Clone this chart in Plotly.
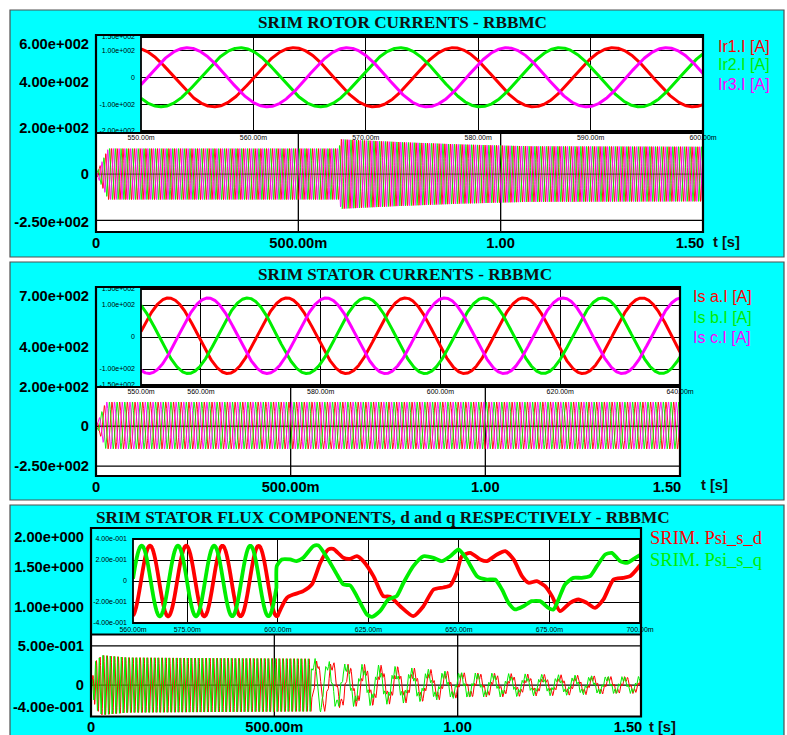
import numpy as np
import plotly.graph_objects as go

W, H = 787, 735

# ====================== DATA ======================
TIME_TICKS = [0.0, 0.5, 1.0, 1.5]
TIME_TICK_TEXT = ["0", "500.00m", "1.00", "1.50"]
TIME_GRID = [0.5, 1.0]

# ---- Panel 1 : rotor currents ----
ROTOR_TITLE = "SRIM ROTOR CURRENTS - RBBMC"
ROTOR_NAMES = ["Ir1.I [A]", "Ir2.I [A]", "Ir3.I [A]"]
ROTOR_FREQ_HZ = 70.4
ROTOR_CREST_MS = 563.6                 # crest of Ir1 read in the inset
ROTOR_LAG = [0.0, -1 / 3, 1 / 3]       # fraction of a period behind Ir1
ROTOR_ENV_T = [0.0, 0.03, 0.60, 0.605, 0.75, 0.90, 1.07, 1.50]
ROTOR_ENV_A = [0.0, 110, 110, 150, 138, 128, 120, 118]
ROTOR_Y_RANGE = [-250, 600]
ROTOR_Y_TICKS = [600, 400, 200, 0, -250]
ROTOR_Y_TEXT = ["6.00e+002", "4.00e+002", "2.00e+002", "0", "-2.50e+002"]
ROTOR_Y_GRID = [-200, 0, 200, 400]
ROTOR_INSET_X_RANGE = [550, 600]
ROTOR_INSET_X_TICKS = [550, 560, 570, 580, 590, 600]
ROTOR_INSET_X_TEXT = ["550.00m", "560.00m", "570.00m", "580.00m", "590.00m", "600.00m"]
ROTOR_INSET_Y_RANGE = [-200, 150]
ROTOR_INSET_Y_TICKS = [150, 100, 0, -100, -200]
ROTOR_INSET_Y_TEXT = ["1.50e+002", "1.00e+002", "0", "-1.00e+002", "-2.00e+002"]

# ---- Panel 2 : stator currents ----
STATOR_TITLE = "SRIM STATOR CURRENTS - RBBMC"
STATOR_NAMES = ["Is a.I [A]", "Is b.I [A]", "Is c.I [A]"]
STATOR_FREQ_HZ = 50.6
STATOR_CREST_MS = 554.6
STATOR_LAG = [0.0, 2 / 3, 1 / 3]
STATOR_OFFSET = 4.0
STATOR_ENV_T = [0.0, 0.025, 1.50]
STATOR_ENV_A = [0.0, 118, 118]
STATOR_Y_RANGE = [-250, 700]
STATOR_Y_TICKS = [700, 400, 200, 0, -250]
STATOR_Y_TEXT = ["7.00e+002", "4.00e+002", "2.00e+002", "0", "-2.50e+002"]
STATOR_Y_GRID = [-200, 0, 200, 400, 600]
STATOR_INSET_X_RANGE = [550, 640]
STATOR_INSET_X_TICKS = [550, 560, 580, 600, 620, 640]
STATOR_INSET_X_TEXT = ["550.00m", "560.00m", "580.00m", "600.00m", "620.00m", "640.00m"]
STATOR_INSET_Y_RANGE = [-150, 150]
STATOR_INSET_Y_TICKS = [150, 100, 0, -100, -150]
STATOR_INSET_Y_TEXT = ["1.50e+002", "1.00e+002", "0", "-1.00e+002", "-1.50e+002"]

# ---- Panel 3 : stator flux d / q ----
FLUX_TITLE = "SRIM STATOR FLUX COMPONENTS, d and q RESPECTIVELY - RBBMC"
FLUX_NAMES = ["SRIM. Psi_s_d", "SRIM. Psi_s_q"]
FLUX_PRE_HZ = 100.0
FLUX_PRE_CREST_MS = [564.7, 562.4]
FLUX_PRE_ENV_T = [0.0, 0.012, 0.03, 0.10, 0.60]
FLUX_PRE_ENV_A = [0.0, 0.30, 0.38, 0.35, 0.335]
# readings of the inset after the switching instant (ms, value)
FLUX_D_POST_MS = [600.1, 602.5, 604.3, 607.0, 609.4, 611.7, 613.9, 615.3, 618.1, 619.9,
                  621.8, 623.6, 626.4, 629.1, 631.0, 633.8, 637.4, 640.2, 643.0, 645.7,
                  647.6, 649.4, 650.8, 653.1, 655.9, 657.7, 660.5, 662.8, 665.1, 667.4,
                  669.2, 671.5, 673.8, 675.7, 677.9, 680.7, 683.0, 685.3, 687.6, 689.9,
                  692.7, 695.4, 697.3, 700.2]
FLUX_D_POST_V = [-0.319, -0.160, -0.129, -0.097, -0.033, 0.173, 0.300, 0.306, 0.221, 0.211,
                 0.236, 0.189, 0.046, -0.144, -0.150, -0.240, -0.335, -0.240, -0.081, -0.062,
                 -0.043, 0.081, 0.236, 0.268, 0.205, 0.189, 0.252, 0.284, 0.205, 0.046,
                 -0.017, -0.002, -0.049, -0.144, -0.287, -0.208, -0.176, -0.208, -0.256, -0.176,
                 0.014, 0.030, 0.046, 0.157]
FLUX_Q_POST_MS = [599.7, 601.1, 603.4, 605.2, 607.0, 609.8, 611.2, 613.9, 616.3, 618.1,
                  620.0, 621.8, 624.6, 626.0, 628.2, 630.5, 632.8, 634.7, 637.4, 640.2,
                  643.0, 645.3, 647.6, 649.9, 652.2, 655.0, 657.7, 660.0, 661.9, 663.7,
                  665.5, 667.8, 670.1, 672.4, 674.7, 676.1, 677.5, 679.3, 681.6, 683.9,
                  686.2, 688.1, 690.4, 692.2, 694.5, 696.4, 698.7, 700.2]
FLUX_Q_POST_V = [0.141, 0.205, 0.205, 0.189, 0.221, 0.332, 0.338, 0.205, 0.062, -0.033,
                 -0.043, -0.144, -0.319, -0.341, -0.287, -0.176, -0.144, -0.017, 0.141, 0.236,
                 0.221, 0.189, 0.236, 0.300, 0.205, 0.046, 0.014, 0.014, -0.081, -0.208,
                 -0.271, -0.240, -0.192, -0.192, -0.256, -0.271, -0.176, -0.033, 0.030, 0.030,
                 0.046, 0.141, 0.252, 0.268, 0.189, 0.173, 0.221, 0.252]
FLUX_TAIL_T = [0.70, 0.85, 1.00, 1.20, 1.50]
FLUX_TAIL_SLOW_A = [0.22, 0.17, 0.13, 0.10, 0.08]
FLUX_TAIL_RIPPLE_A = [0.07, 0.06, 0.05, 0.04, 0.035]
FLUX_TAIL_SLOW_HZ = 22.5
FLUX_TAIL_RIPPLE_HZ = 110.0
FLUX_TAIL_CREST_MS = [614.0, 607.0]
FLUX_TAIL_RIPPLE_CREST_MS = [0.0, 2.0]
FLUX_Y_RANGE = [-0.4, 2.0]
FLUX_Y_TICKS = [2.0, 1.5, 1.0, 0.5, 0.0, -0.4]
FLUX_Y_TEXT = ["2.00e+000", "1.50e+000", "1.00e+000", "5.00e-001", "0", "-4.00e-001"]
FLUX_Y_GRID = [0.0, 0.5, 1.0, 1.5]
FLUX_INSET_X_RANGE = [560, 700]
FLUX_INSET_X_TICKS = [560, 575, 600, 625, 650, 675, 700]
FLUX_INSET_X_TEXT = ["560.00m", "575.00m", "600.00m", "625.00m", "650.00m", "675.00m", "700.00m"]
FLUX_INSET_Y_RANGE = [-0.4, 0.4]
FLUX_INSET_Y_TICKS = [0.4, 0.2, 0.0, -0.2, -0.4]
FLUX_INSET_Y_TEXT = ["4.00e-001", "2.00e-001", "0", "-2.00e-001", "-4.00e-001"]

# ====================== STYLE / GEOMETRY ======================
RED, GREEN, MAGENTA = "#ff0000", "#00ee00", "#ff00ff"
CYAN = "#00ffff"
SANS = "Arial, Liberation Sans, sans-serif"
SERIF = "Times New Roman, Liberation Serif, serif"
TICK_SIZE = 14.7
TITLE_SIZE = 17.2
LEGEND_SIZE = 16

PANELS = [(10, 10, 784, 257), (10, 262, 784, 500), (10, 505, 784, 745)]
MAIN = [(96, 35, 703, 232), (96, 287, 680, 476), (91, 528, 641, 716.5)]
INSET = [(141, 37, 703, 131), (141, 289, 680, 385), (133, 539, 640, 623)]
INSET_OUTER = [(96, 35, 703, 133), (96, 287, 680, 387), (91, 528, 641, 634.5)]

SAMPLE_STEP = 0.00025   # seconds between computed points of the overview traces


def px(x):
    return x / W


def py(y):
    return 1 - y / H


def dom_x(b):
    return [px(b[0]), px(b[2])]


def dom_y(b):
    return [py(b[3]), py(b[1])]


# ====================== SIGNALS ======================
def three_phase(t_s, freq, crest_ms, lag, env_t, env_a, offset=0.0):
    env = np.interp(t_s, env_t, env_a)
    return [env * np.cos(2 * np.pi * (freq * (t_s - crest_ms / 1000.0) - lg)) + offset * (env > 0)
            for lg in lag]


t_main = np.arange(0.0, 1.5 + 1e-9, SAMPLE_STEP)
rotor_main = three_phase(t_main, ROTOR_FREQ_HZ, ROTOR_CREST_MS, ROTOR_LAG, ROTOR_ENV_T, ROTOR_ENV_A)
t_ri = np.arange(ROTOR_INSET_X_RANGE[0], ROTOR_INSET_X_RANGE[1] + 0.01, 0.05)
rotor_inset = three_phase(t_ri / 1000.0, ROTOR_FREQ_HZ, ROTOR_CREST_MS, ROTOR_LAG, ROTOR_ENV_T, ROTOR_ENV_A)

stator_main = three_phase(t_main, STATOR_FREQ_HZ, STATOR_CREST_MS, STATOR_LAG, STATOR_ENV_T,
                          STATOR_ENV_A, STATOR_OFFSET)
t_si = np.arange(STATOR_INSET_X_RANGE[0], STATOR_INSET_X_RANGE[1] + 0.01, 0.05)
stator_inset = three_phase(t_si / 1000.0, STATOR_FREQ_HZ, STATOR_CREST_MS, STATOR_LAG, STATOR_ENV_T,
                           STATOR_ENV_A, STATOR_OFFSET)

post_ms = [FLUX_D_POST_MS, FLUX_Q_POST_MS]
post_v = [FLUX_D_POST_V, FLUX_Q_POST_V]


def flux_pre(t_s, k):
    env = np.interp(t_s, FLUX_PRE_ENV_T, FLUX_PRE_ENV_A)
    return env * np.cos(2 * np.pi * FLUX_PRE_HZ * (t_s - FLUX_PRE_CREST_MS[k] / 1000.0))


flux_main_t, flux_main_v, flux_inset_t, flux_inset_v = [], [], [], []
for k in range(2):
    t_pre = t_main[t_main < post_ms[k][0] / 1000.0 - 0.0002]
    t_tail = np.arange(0.701, 1.5 + 0.0005, 0.001)
    slow = np.interp(t_tail, FLUX_TAIL_T, FLUX_TAIL_SLOW_A)
    rip = np.interp(t_tail, FLUX_TAIL_T, FLUX_TAIL_RIPPLE_A)
    tail = (slow * np.cos(2 * np.pi * FLUX_TAIL_SLOW_HZ * (t_tail - FLUX_TAIL_CREST_MS[k] / 1000.0))
            + rip * np.cos(2 * np.pi * FLUX_TAIL_RIPPLE_HZ * (t_tail - FLUX_TAIL_RIPPLE_CREST_MS[k] / 1000.0)))
    flux_main_t.append(np.concatenate([t_pre, np.array(post_ms[k]) / 1000.0, t_tail]))
    flux_main_v.append(np.concatenate([flux_pre(t_pre, k), np.array(post_v[k]), tail]))
    ti = np.arange(FLUX_INSET_X_RANGE[0], post_ms[k][0] - 0.05, 0.1)
    flux_inset_t.append(np.concatenate([ti, np.array(post_ms[k])]))
    flux_inset_v.append(np.concatenate([flux_pre(ti / 1000.0, k), np.array(post_v[k])]))

# ====================== FIGURE ======================
fig = go.Figure()
layout = dict(
    width=W, height=H, autosize=False,
    margin=dict(l=0, r=0, t=0, b=0, pad=0, autoexpand=False),
    paper_bgcolor="white", plot_bgcolor="white", showlegend=False,
)


def clamp_ticks(vals, rng, length_px, lo_px, hi_px):
    """Edge labels are pulled inside the plot, as the original software does."""
    upp = (rng[1] - rng[0]) / length_px
    out = []
    for v in vals:
        if abs(v - rng[1]) < 1e-9:
            out.append(v - hi_px * upp)
        elif abs(v - rng[0]) < 1e-9:
            out.append(v + lo_px * upp)
        else:
            out.append(v)
    return out


main_y = [(ROTOR_Y_RANGE, ROTOR_Y_TICKS, ROTOR_Y_TEXT, ROTOR_Y_GRID),
          (STATOR_Y_RANGE, STATOR_Y_TICKS, STATOR_Y_TEXT, STATOR_Y_GRID),
          (FLUX_Y_RANGE, FLUX_Y_TICKS, FLUX_Y_TEXT, FLUX_Y_GRID)]
inset_ax = [(ROTOR_INSET_X_RANGE, ROTOR_INSET_X_TICKS, ROTOR_INSET_X_TEXT,
             ROTOR_INSET_Y_RANGE, ROTOR_INSET_Y_TICKS, ROTOR_INSET_Y_TEXT),
            (STATOR_INSET_X_RANGE, STATOR_INSET_X_TICKS, STATOR_INSET_X_TEXT,
             STATOR_INSET_Y_RANGE, STATOR_INSET_Y_TICKS, STATOR_INSET_Y_TEXT),
            (FLUX_INSET_X_RANGE, FLUX_INSET_X_TICKS, FLUX_INSET_X_TEXT,
             FLUX_INSET_Y_RANGE, FLUX_INSET_Y_TICKS, FLUX_INSET_Y_TEXT)]

shapes = []
for (x0, y0, x1, y1) in PANELS:
    shapes.append(dict(type="rect", xref="paper", yref="paper", x0=px(x0), x1=px(x1), y0=py(y1), y1=py(y0),
                       fillcolor=CYAN, line=dict(color="#505050", width=1.2), layer="below"))

for p in range(3):
    mi, ii = 2 * p + 1, 2 * p + 2
    mb, ib = MAIN[p], INSET[p]
    yr, yt, ytext, ygrid = main_y[p]
    xticks = clamp_ticks(TIME_TICKS, [0, 1.5], mb[2] - mb[0], 0, 13)
    yticks = clamp_ticks(yt, yr, mb[3] - mb[1], 10, 9)
    sfx_m = "" if mi == 1 else str(mi)
    layout["xaxis" + sfx_m] = dict(domain=dom_x(mb), range=[0, 1.5], anchor="y" + sfx_m,
                                   tickmode="array", tickvals=xticks, ticktext=TIME_TICK_TEXT,
                                   tickfont=dict(family=SANS, size=TICK_SIZE, color="black", weight="bold"),
                                   showgrid=False, zeroline=False, showline=False, ticks="",
                                   ticklabelstandoff=0, fixedrange=True, automargin=False)
    layout["yaxis" + sfx_m] = dict(domain=dom_y(mb), range=yr, anchor="x" + sfx_m,
                                   tickmode="array", tickvals=yticks, ticktext=ytext,
                                   tickfont=dict(family=SANS, size=TICK_SIZE, color="black", weight="bold"),
                                   showgrid=False, zeroline=False, showline=False, ticks="",
                                   ticklabelstandoff=6, fixedrange=True, automargin=False)
    ixr, ixt, ixtext, iyr, iyt, iytext = inset_ax[p]
    layout["xaxis" + str(ii)] = dict(domain=dom_x(ib), range=ixr, anchor="y" + str(ii),
                                     tickmode="array", tickvals=ixt, ticktext=ixtext,
                                     tickfont=dict(family=SANS, size=7, color="black"),
                                     showgrid=True, gridcolor="black", gridwidth=1,
                                     zeroline=False, showline=False, ticks="", ticklabelstandoff=1,
                                     fixedrange=True, automargin=False)
    layout["yaxis" + str(ii)] = dict(domain=dom_y(ib), range=iyr, anchor="x" + str(ii),
                                     tickmode="array", tickvals=iyt, ticktext=iytext,
                                     tickfont=dict(family=SANS, size=7, color="black"),
                                     showgrid=True, gridcolor="black", gridwidth=1,
                                     zeroline=False, showline=False, ticks="", ticklabelstandoff=5,
                                     fixedrange=True, automargin=False)
    shapes.append(dict(type="rect", xref="paper", yref="paper", x0=px(mb[0]), x1=px(mb[2]),
                       y0=py(mb[3]), y1=py(mb[1]), fillcolor="white", line=dict(width=0), layer="below"))
    for g in TIME_GRID:
        shapes.append(dict(type="line", xref="x" + sfx_m, yref="paper", x0=g, x1=g,
                           y0=py(mb[3]), y1=py(mb[1]), line=dict(color="black", width=1.3), layer="below"))
    for g in ygrid:
        shapes.append(dict(type="line", xref="paper", yref="y" + sfx_m, x0=px(mb[0]), x1=px(mb[2]),
                           y0=g, y1=g, line=dict(color="black", width=1.3), layer="below"))
    ob = INSET_OUTER[p]
    shapes.append(dict(type="rect", xref="paper", yref="paper", x0=px(ob[0]), x1=px(ob[2]),
                       y0=py(ob[3]), y1=py(ob[1]), fillcolor=CYAN, line=dict(width=0), layer="below"))
    shapes.append(dict(type="rect", xref="paper", yref="paper", x0=px(mb[0]), x1=px(mb[2]),
                       y0=py(mb[3]), y1=py(mb[1]), line=dict(color="black", width=2.2), layer="above"))
    shapes.append(dict(type="rect", xref="paper", yref="paper", x0=px(ib[0]), x1=px(ib[2]),
                       y0=py(ib[3]), y1=py(ib[1]), line=dict(color="black", width=1.8), layer="above"))
    shapes.append(dict(type="line", xref="paper", yref="paper", x0=px(ob[0]), x1=px(ob[2]),
                       y0=py(ob[3]), y1=py(ob[3]), line=dict(color="black", width=2.2), layer="above"))

layout["shapes"] = shapes

# ---- traces ----
colors3 = [RED, GREEN, MAGENTA]
for k in range(3):
    fig.add_trace(go.Scatter(x=t_main, y=rotor_main[k], mode="lines",
                             line=dict(color=colors3[k], width=0.9),
                             xaxis="x", yaxis="y", hoverinfo="skip", name=ROTOR_NAMES[k]))
for k in range(3):
    fig.add_trace(go.Scatter(x=t_ri, y=rotor_inset[k], mode="lines", line=dict(color=colors3[k], width=3),
                             xaxis="x2", yaxis="y2", hoverinfo="skip", name=ROTOR_NAMES[k]))
for k in range(3):
    fig.add_trace(go.Scatter(x=t_main, y=stator_main[k], mode="lines",
                             line=dict(color=colors3[k], width=0.9),
                             xaxis="x3", yaxis="y3", hoverinfo="skip", name=STATOR_NAMES[k]))
for k in range(3):
    fig.add_trace(go.Scatter(x=t_si, y=stator_inset[k], mode="lines", line=dict(color=colors3[k], width=3),
                             xaxis="x4", yaxis="y4", hoverinfo="skip", name=STATOR_NAMES[k]))
colors2 = [RED, GREEN]
for k in range(2):
    fig.add_trace(go.Scatter(x=flux_main_t[k], y=flux_main_v[k], mode="lines",
                             line=dict(color=colors2[k], width=1),
                             xaxis="x5", yaxis="y5", hoverinfo="skip", name=FLUX_NAMES[k]))
for k in range(2):
    fig.add_trace(go.Scatter(x=flux_inset_t[k], y=flux_inset_v[k], mode="lines",
                             line=dict(color=colors2[k], width=3.8, shape="spline", smoothing=0.6),
                             xaxis="x6", yaxis="y6", hoverinfo="skip", name=FLUX_NAMES[k]))

# ---- texts ----
ann = []


def text(x, y, s, size, family, color="#111111", bold=False, xanchor="left"):
    ann.append(dict(x=px(x), y=py(y), xref="paper", yref="paper", text=s, showarrow=False,
                    xanchor=xanchor, yanchor="middle", borderpad=0,
                    font=dict(family=family, size=size, color=color, weight="bold" if bold else "normal")))


text(402, 23, ROTOR_TITLE, TITLE_SIZE, SERIF, bold=True, xanchor="center")
text(405, 274, STATOR_TITLE, TITLE_SIZE, SERIF, bold=True, xanchor="center")
text(383, 517, FLUX_TITLE, TITLE_SIZE, SERIF, bold=True, xanchor="center")
text(712, 242, "t [s]", TICK_SIZE, SANS, bold=True)
text(700, 485, "t [s]", TICK_SIZE, SANS, bold=True)
text(648, 727, "t [s]", TICK_SIZE, SANS, bold=True)
for k, yy in enumerate([46, 65, 84]):
    text(717, yy, ROTOR_NAMES[k], LEGEND_SIZE, SANS, color=colors3[k])
for k, yy in enumerate([297, 317, 337]):
    text(692, yy, STATOR_NAMES[k], LEGEND_SIZE, SANS, color=colors3[k])
for k, yy in enumerate([538, 560]):
    text(649, yy, FLUX_NAMES[k], 18.5, SERIF, color=colors2[k])
layout["annotations"] = ann

fig.update_layout(**layout)
fig.write_html("out.html", include_plotlyjs=True, config={"displayModeBar": False},
               post_script="document.body.style.margin='0';document.body.style.overflow='hidden';")
